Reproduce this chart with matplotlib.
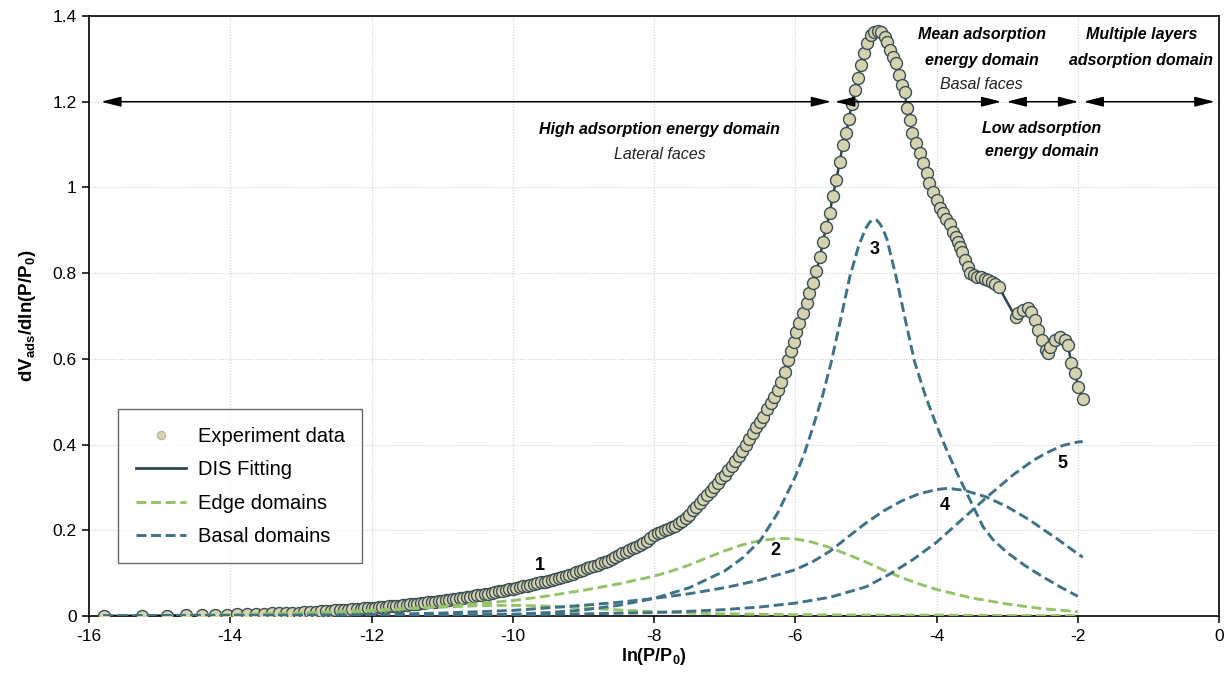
"""
DIS decomposition of the adsorption derivative curve
"""

import matplotlib
matplotlib.use("Agg")
import matplotlib.pyplot as plt
from matplotlib.ticker import MultipleLocator, FuncFormatter

plt.rcParams["font.family"] = ["Liberation Sans", "DejaVu Sans"]
plt.rcParams["mathtext.fontset"] = "custom"
plt.rcParams["mathtext.rm"] = "Liberation Sans"
plt.rcParams["mathtext.bf"] = "Liberation Sans:bold"
plt.rcParams["mathtext.it"] = "Liberation Sans:italic"
plt.rcParams["axes.unicode_minus"] = False

# ======================================================
# 1. Experimental derivative data  (ln(P/P0), dV/dln(P/P0))
# ======================================================
ln_p_exp = [
    -15.79, -15.25, -14.89, -14.63, -14.40, -14.21, -14.04, -13.90, -13.76, -13.64,
    -13.52, -13.41, -13.31, -13.21, -13.12, -13.03, -12.95, -12.87, -12.79, -12.72,
    -12.65, -12.58, -12.51, -12.45, -12.39, -12.33, -12.27, -12.21, -12.15, -12.10,
    -12.05, -12.00,
    -11.95, -11.90, -11.85, -11.80, -11.75, -11.70, -11.65, -11.60, -11.55, -11.50,
    -11.45, -11.40, -11.35, -11.30, -11.25, -11.20, -11.15, -11.10, -11.05, -11.00,
    -10.95, -10.90, -10.85, -10.80, -10.75, -10.70, -10.65, -10.60, -10.55, -10.50,
    -10.45, -10.40, -10.35, -10.30, -10.25, -10.20, -10.15, -10.10, -10.05, -10.00,
    -9.95, -9.90, -9.85, -9.80, -9.75, -9.70, -9.65, -9.60, -9.55, -9.50,
    -9.45, -9.40, -9.35, -9.30, -9.25, -9.20, -9.15, -9.10, -9.05, -9.00,
    -8.95, -8.90, -8.85, -8.80, -8.75, -8.70, -8.65, -8.60, -8.55, -8.50,
    -8.45, -8.40, -8.35, -8.30, -8.25, -8.20, -8.15, -8.10, -8.05, -8.00,
    -7.95, -7.90, -7.85, -7.80, -7.75, -7.70, -7.65, -7.60, -7.55, -7.50,
    -7.45, -7.40, -7.35, -7.30, -7.25, -7.20, -7.15, -7.10, -7.05, -7.00,
    -6.95, -6.90, -6.85, -6.80, -6.75, -6.70, -6.65, -6.60, -6.55, -6.50,
    -6.45, -6.40, -6.35, -6.30, -6.25, -6.20, -6.15, -6.10,
    -6.06, -6.02, -5.99, -5.94, -5.89, -5.84, -5.80, -5.75, -5.70, -5.65,
    -5.61, -5.56, -5.51, -5.47, -5.42, -5.37, -5.33, -5.28, -5.24, -5.20,
    -5.16, -5.11, -5.07, -5.03, -4.98, -4.93, -4.88, -4.83, -4.78, -4.73,
    -4.70, -4.66, -4.62, -4.57, -4.53, -4.49, -4.45, -4.42, -4.38, -4.34,
    -4.29, -4.24, -4.19, -4.14, -4.10, -4.05, -4.00, -3.95, -3.91, -3.86,
    -3.81, -3.77, -3.73, -3.70, -3.67, -3.64, -3.60, -3.56, -3.52, -3.47,
    -3.42, -3.37, -3.32, -3.27, -3.22, -3.17, -3.12,
    -2.88, -2.84, -2.78, -2.71, -2.66, -2.61, -2.56, -2.50, -2.45, -2.42,
    -2.39, -2.32, -2.25, -2.18, -2.14, -2.09, -2.04, -1.99, -1.92,
]
dv_exp = [
    0.000, 0.001, 0.001, 0.002, 0.002, 0.003, 0.003, 0.004, 0.004, 0.005,
    0.005, 0.006, 0.006, 0.007, 0.008, 0.008, 0.009, 0.010, 0.010, 0.011,
    0.012, 0.012, 0.013, 0.014, 0.014, 0.015, 0.016, 0.016, 0.017, 0.018,
    0.018, 0.019,
    0.0196, 0.0203, 0.0209, 0.0216, 0.0223, 0.0230, 0.0237, 0.0244, 0.0252, 0.0260,
    0.0269, 0.0278, 0.0287, 0.0296, 0.0306, 0.0316, 0.0326, 0.0337, 0.0348, 0.0360,
    0.0371, 0.0382, 0.0393, 0.0404, 0.0416, 0.0428, 0.0440, 0.0453, 0.0466, 0.0480,
    0.0495, 0.0510, 0.0525, 0.0540, 0.0556, 0.0572, 0.0588, 0.0605, 0.0622, 0.0640,
    0.0657, 0.0674, 0.0691, 0.0709, 0.0727, 0.0745, 0.0763, 0.0782, 0.0801, 0.0820,
    0.0843, 0.0866, 0.0890, 0.0914, 0.0939, 0.0964, 0.0990, 0.1017, 0.1045, 0.1080,
    0.1110, 0.1140, 0.1170, 0.1200, 0.1230, 0.1262, 0.1295, 0.1330, 0.1370, 0.1420,
    0.146, 0.150, 0.154, 0.158, 0.162, 0.166, 0.171, 0.176, 0.182, 0.188,
    0.193, 0.197, 0.200, 0.203, 0.207, 0.211, 0.216, 0.222, 0.229, 0.236,
    0.247, 0.255, 0.263, 0.272, 0.283, 0.292, 0.300, 0.310, 0.321, 0.329,
    0.341, 0.350, 0.362, 0.373, 0.386, 0.399, 0.413, 0.427, 0.440, 0.452,
    0.465, 0.482, 0.497, 0.510, 0.527, 0.545, 0.570, 0.597,
    0.619, 0.640, 0.663, 0.684, 0.707, 0.730, 0.754, 0.777, 0.805, 0.838,
    0.873, 0.908, 0.940, 0.980, 1.017, 1.059, 1.099, 1.127, 1.160, 1.195,
    1.227, 1.255, 1.286, 1.313, 1.337, 1.355, 1.362, 1.364, 1.362, 1.352,
    1.339, 1.321, 1.304, 1.290, 1.262, 1.239, 1.223, 1.185, 1.157, 1.127,
    1.104, 1.080, 1.057, 1.034, 1.010, 0.990, 0.970, 0.953, 0.940, 0.927,
    0.915, 0.896, 0.884, 0.873, 0.862, 0.850, 0.830, 0.815, 0.800, 0.795,
    0.792, 0.790, 0.787, 0.783, 0.779, 0.775, 0.768,
    0.697, 0.706, 0.714, 0.718, 0.710, 0.691, 0.667, 0.644, 0.621, 0.613,
    0.628, 0.644, 0.652, 0.644, 0.632, 0.590, 0.566, 0.535, 0.506,
]

# ======================================================
# 2. DIS domain components
# ======================================================
# edge domains (peaks 1 and 2)
edge1_x = [-15.8, -14.0, -13.0, -12.0, -11.5, -11.0, -10.5, -10.0, -9.5, -9.0,
           -8.5, -8.0, -7.5, -7.0, -6.0, -5.0, -4.0, -3.0, -2.0]
edge1_y = [0.000, 0.002, 0.006, 0.012, 0.017, 0.021, 0.024, 0.025, 0.023, 0.019,
           0.014, 0.010, 0.007, 0.005, 0.003, 0.002, 0.002, 0.001, 0.001]

edge2_x = [-15.8, -14.0, -13.0, -12.0, -11.0, -10.0, -9.5, -9.0, -8.5, -8.0,
           -7.75, -7.5, -7.25, -7.0, -6.75, -6.5, -6.25, -6.0, -5.75, -5.5,
           -5.25, -5.0, -4.75, -4.5, -4.25, -4.0, -3.5, -3.0, -2.5, -2.0]
edge2_y = [0.000, 0.003, 0.007, 0.013, 0.022, 0.036, 0.047, 0.060, 0.075, 0.093,
           0.105, 0.119, 0.136, 0.152, 0.166, 0.176, 0.181, 0.180, 0.172, 0.159,
           0.143, 0.126, 0.107, 0.090, 0.075, 0.062, 0.042, 0.028, 0.017, 0.010]

# basal domains (peaks 3, 4 and 5)
basal3_x = [-15.8, -12.0, -11.0, -10.0, -9.5, -9.0, -8.5, -8.0, -7.5, -7.0,
            -6.75, -6.5, -6.25, -6.0, -5.87, -5.75, -5.62, -5.49, -5.36, -5.23,
            -5.1, -5.0, -4.95, -4.9, -4.85, -4.8, -4.75, -4.7, -4.57, -4.44,
            -4.31, -4.15, -4.0, -3.85, -3.7, -3.5, -3.34, -3.2, -3.0, -2.75,
            -2.5, -2.25, -2.0]
basal3_y = [0.000, 0.001, 0.002, 0.004, 0.008, 0.014, 0.025, 0.041, 0.066, 0.105,
            0.135, 0.175, 0.240, 0.325, 0.380, 0.440, 0.510, 0.593, 0.690, 0.790,
            0.865, 0.905, 0.918, 0.925, 0.924, 0.915, 0.900, 0.878, 0.790, 0.690,
            0.593, 0.510, 0.445, 0.385, 0.330, 0.262, 0.208, 0.178, 0.148, 0.118,
            0.092, 0.068, 0.046]

basal4_x = [-15.8, -13.0, -12.0, -11.0, -10.0, -9.0, -8.5, -8.0, -7.5, -7.0,
            -6.5, -6.0, -5.75, -5.5, -5.25, -5.0, -4.75, -4.5, -4.25, -4.0,
            -3.84, -3.6, -3.3, -3.0, -2.68, -2.5, -2.3, -2.1, -1.93]
basal4_y = [0.000, 0.002, 0.003, 0.007, 0.013, 0.025, 0.032, 0.041, 0.052, 0.066,
            0.084, 0.108, 0.127, 0.152, 0.185, 0.217, 0.245, 0.268, 0.285, 0.295,
            0.298, 0.293, 0.278, 0.255, 0.224, 0.203, 0.181, 0.157, 0.137]

basal5_x = [-15.8, -12.0, -10.0, -9.0, -8.0, -7.5, -7.0, -6.5, -6.0, -5.5,
            -5.0, -4.66, -4.33, -4.0, -3.62, -3.29, -2.91, -2.64, -2.44, -2.21,
            -2.0, -1.93]
basal5_y = [0.000, 0.001, 0.003, 0.005, 0.008, 0.011, 0.015, 0.021, 0.030, 0.044,
            0.068, 0.098, 0.132, 0.172, 0.228, 0.277, 0.330, 0.362, 0.381, 0.398,
            0.406, 0.407]

peak_labels = ["1", "2", "3", "4", "5"]
peak_label_x = [-9.62, -6.28, -4.87, -3.88, -2.21]
peak_label_y = [0.119, 0.152, 0.855, 0.259, 0.357]

# adsorption domains along ln(P/P0)
domain_start = [-15.83, -5.44, -3.01, -1.92]
domain_end = [-5.49, -3.08, -1.99, -0.06]
domain_level = 1.2

# ======================================================
# 3. Figure
# ======================================================
C_MARK = "#d6d3b0"
C_EDGE = "#3a4e54"
C_FIT = "#2e464c"
C_GREEN = "#94c36a"
C_BLUE = "#3f7286"

fig = plt.figure(figsize=(12.26, 6.75), dpi=100)
ax = fig.add_axes([0.0726, 0.0874, 0.9217, 0.8889])

ax.plot(ln_p_exp, dv_exp, color=C_FIT, lw=1.8, zorder=2)
ax.plot(ln_p_exp, dv_exp, linestyle="none", marker="o", ms=8.6,
        mfc=C_MARK, mec=C_EDGE, mew=1.0, zorder=3)

dash = (3.4, 1.6)
ax.plot(edge1_x, edge1_y, color=C_GREEN, lw=2.1, dashes=dash, zorder=4)
ax.plot(edge2_x, edge2_y, color=C_GREEN, lw=2.1, dashes=dash, zorder=4)
ax.plot(basal3_x, basal3_y, color=C_BLUE, lw=2.1, dashes=dash, zorder=4)
ax.plot(basal4_x, basal4_y, color=C_BLUE, lw=2.1, dashes=dash, zorder=4)
ax.plot(basal5_x, basal5_y, color=C_BLUE, lw=2.1, dashes=dash, zorder=4)

for lab, lx, ly in zip(peak_labels, peak_label_x, peak_label_y):
    ax.text(lx, ly, lab, ha="center", va="center", fontsize=13,
            fontweight="bold", zorder=6)

# domain arrows
for x0, x1 in zip(domain_start, domain_end):
    ax.annotate("", xy=(x1, domain_level), xytext=(x0, domain_level),
                arrowprops=dict(arrowstyle="<|-|>,head_length=1.0,head_width=0.25",
                                color="black", lw=1.1, shrinkA=0, shrinkB=0,
                                mutation_scale=12), zorder=5)

bi = dict(fontsize=11.5, fontweight="bold", fontstyle="italic", ha="center",
          va="center", zorder=6)
it = dict(fontsize=11.5, fontstyle="italic", ha="center", va="center",
          color="#222222", zorder=6)
ax.text(-7.92, 1.134, "High adsorption energy domain", **bi)
ax.text(-7.92, 1.076, "Lateral faces", **it)
ax.text(-3.36, 1.356, "Mean adsorption", **bi)
ax.text(-3.36, 1.297, "energy domain", **bi)
ax.text(-3.36, 1.239, "Basal faces", **it)
ax.text(-1.10, 1.356, "Multiple layers", **bi)
ax.text(-1.10, 1.297, "adsorption domain", **bi)
ax.text(-2.51, 1.138, "Low adsorption", **bi)
ax.text(-2.51, 1.083, "energy domain", **bi)

# axes
ax.set_xlim(-16, 0)
ax.set_ylim(0, 1.4)
ax.xaxis.set_major_locator(MultipleLocator(2))
ax.yaxis.set_major_locator(MultipleLocator(0.2))
ax.yaxis.set_major_formatter(FuncFormatter(lambda v, p: f"{v:g}"))
ax.tick_params(direction="out", length=5, width=1.1, labelsize=12.5, pad=4)
for sp in ax.spines.values():
    sp.set_linewidth(1.2)
ax.grid(True, color="#cfcfcf", linestyle=(0, (1, 1.5)), lw=0.8, zorder=0)
ax.set_axisbelow(True)

ax.set_xlabel(r"ln(P/P$_{\mathbf{0}}$)", fontsize=13, fontweight="bold", labelpad=2)
ax.set_ylabel(r"dV$_{\mathbf{ads}}$/dln(P/P$_{\mathbf{0}}$)", fontsize=13.5,
              fontweight="bold", labelpad=10)

# legend
h_exp, = ax.plot([], [], linestyle="none", marker="o", ms=6, mfc=C_MARK,
                 mec="#b8b89a", mew=0.8)
h_fit, = ax.plot([], [], color=C_FIT, lw=2)
h_edge, = ax.plot([], [], color=C_GREEN, lw=2.1, dashes=dash)
h_basal, = ax.plot([], [], color=C_BLUE, lw=2.1, dashes=dash)
leg = ax.legend([h_exp, h_fit, h_edge, h_basal],
                ["Experiment data", "DIS Fitting", "Edge domains", "Basal domains"],
                loc="lower left", bbox_to_anchor=(0.026, 0.088), borderaxespad=0,
                fontsize=14.5, frameon=True, fancybox=False, edgecolor="#444444",
                handlelength=2.5, handletextpad=0.6, labelspacing=0.72,
                borderpad=0.85)
leg.get_frame().set_linewidth(1.0)

plt.savefig("out.png", dpi=100)
plt.close()
